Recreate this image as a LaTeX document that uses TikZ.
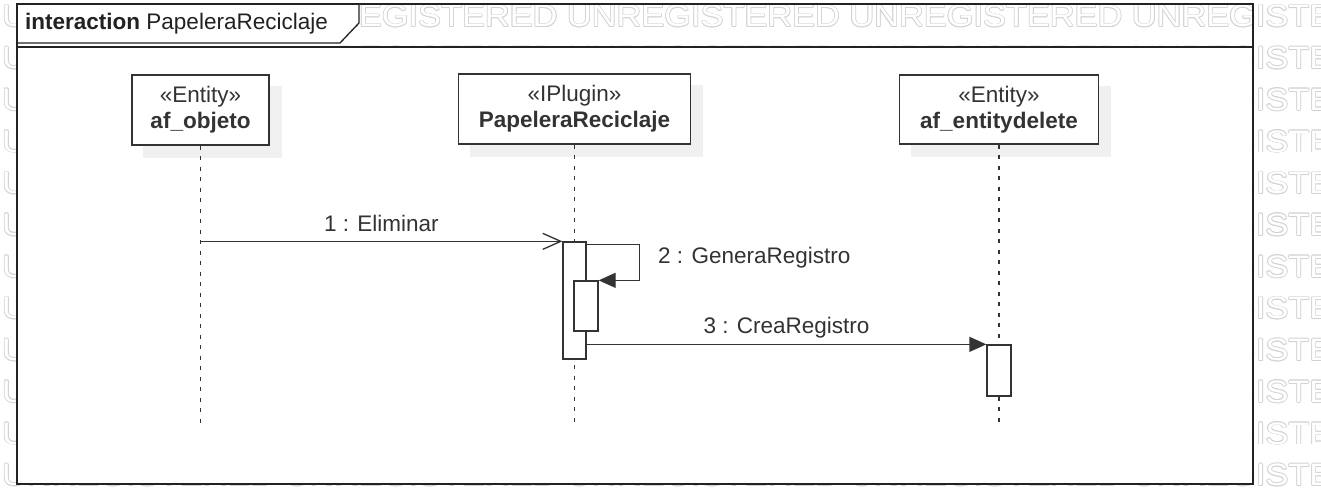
\documentclass[tikz,border=0pt]{standalone}
\usepackage{fontspec}
\setmainfont{Liberation Sans}
\usetikzlibrary{arrows.meta}
\definecolor{ink}{HTML}{333333}
\definecolor{framec}{HTML}{222222}
\definecolor{shad}{HTML}{F0F0F0}
\definecolor{wmc}{HTML}{D2D2D2}
\pgfdeclarelayer{wmlayer}
\pgfdeclarelayer{bglayer}
\pgfsetlayers{wmlayer,bglayer,main}
\newcommand\wmstr{\scalebox{1.108}[1]{UNREGISTERED UNREGISTERED UNREGISTERED UNREGISTERED UNREGISTERED}}
\tikzset{
  lifebox/.style={draw=ink, line width=1.4pt, fill=white, align=center, inner sep=0pt, text=ink, font=\fontsize{22.5}{26}\selectfont},
  lifeline/.style={draw=ink, line width=1.4pt, dash pattern=on 4pt off 6.5pt},
  actbox/.style={draw=ink, line width=1.3pt, fill=white, inner sep=0pt},
  msg/.style={draw=ink, line width=1.3pt},
  lbl/.style={text=ink, font=\fontsize{22.5}{26}\selectfont, inner sep=0pt, anchor=base},
  wmtext/.style={font=\fontsize{31}{36}\selectfont, inner sep=0pt, anchor=base west},
  framel/.style={draw=framec, line width=1.6pt},
  openhead/.style={-{Straight Barb[length=18pt,width=16pt]}},
  fullhead/.style={-{Triangle[length=17pt,width=15pt]}},
}
\begin{document}
\begin{tikzpicture}[x=1pt,y=-1pt]
\useasboundingbox (0,0) rectangle (1321,487);

% watermark and white frame background
\begin{pgfonlayer}{wmlayer}
  \clip (0,0) rectangle (1321,487);
  \foreach \k in {0,...,11}{
    \foreach \dx/\dy in {0.8/0,-0.8/0,0/0.8,0/-0.8,0.57/0.57,-0.57/0.57,0.57/-0.57,-0.57/-0.57}{
      \node[wmtext,text=wmc] at (2+\dx, 27+41.7*\k+\dy) {\wmstr};
    }
    \node[wmtext,text=white] (wm\k) at (2,27+41.7*\k) {\wmstr};
  }
  \fill[white] (17,47) rectangle (1253,484);
  \fill[white] (17,4) -- (359,4) -- (359,23) -- (340,43) -- (340,47) -- (17,47) -- cycle;
\end{pgfonlayer}

% frame
\node[framel, minimum width=1236pt, minimum height=480pt, inner sep=0pt] (frame) at (635,244) {};
\coordinate (hl) at (0,47);
\coordinate (tabA) at (340,43);
\coordinate (tabB) at (359,23);
\coordinate (tabC) at (359,4);
\draw[framel] (frame.west |- hl) -- (frame.east |- hl);
\draw[framel, line width=1.3pt] (frame.west |- tabA) -- (tabA) -- (tabB) -- (tabC);
\node[lbl, anchor=base west, text=framec] (title) at (25,29.3) {\textbf{interaction} PapeleraReciclaje};

% lifeline heads
\node[lifebox, minimum width=137pt, minimum height=70pt] (obj) at (200.5,110) {«Entity»\\\textbf{af\_objeto}};
\node[lifebox, minimum width=232pt, minimum height=70pt] (pr) at (574.5,109) {«IPlugin»\\\textbf{PapeleraReciclaje}};
\node[lifebox, minimum width=199pt, minimum height=69pt] (ed) at (999,109.5) {«Entity»\\\textbf{af\_entitydelete}};

\begin{pgfonlayer}{bglayer}
  \foreach \n in {obj,pr,ed}
    \fill[shad] ([shift={(12,12)}]\n.south west) rectangle ([shift={(12,12)}]\n.north east);
\end{pgfonlayer}

% lifelines
\coordinate (bot) at (0,428);
\draw[lifeline] (obj.south) -- (obj.south |- bot);
\draw[lifeline] (pr.south) -- (pr.south |- bot);
\draw[lifeline] (ed.south) -- (ed.south |- bot);

% activations
\node[actbox, minimum width=23pt, minimum height=117pt] (a1) at (574.5,300.5) {};
\node[actbox, minimum width=24pt, minimum height=50pt] (a2) at (586,306) {};
\node[actbox, minimum width=24pt, minimum height=51pt] (a3) at (999,370.5) {};

% messages
\draw[msg, openhead] (a1.north west -| obj.south) -- node[lbl, midway, yshift=10pt] (l1) {1 : Eliminar} (a1.north west);
\draw[msg, fullhead] ([yshift=-3pt]a1.north east) -- ++(53,0) |- (a2.north east);
\node[lbl, anchor=base west] (l2) at (658,263) {2 : GeneraRegistro};
\draw[msg, fullhead] (a3.north west -| a1.east) -- node[lbl, midway, yshift=10.5pt] (l3) {3 : CreaRegistro} (a3.north west);
\end{tikzpicture}
\end{document}
